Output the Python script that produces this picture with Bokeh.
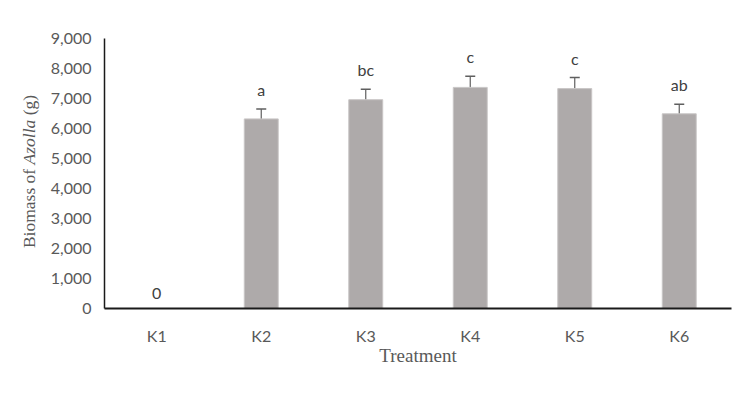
import math
from bokeh.plotting import figure
from bokeh.layouts import row
from bokeh.models import ColumnDataSource, Whisker, TeeHead, Label, FixedTicker, Range1d
from bokeh.core.properties import value
from bokeh.embed import file_html
from bokeh.resources import INLINE

categories = ["K1", "K2", "K3", "K4", "K5", "K6"]
biomass = [0, 6320, 6960, 7370, 7330, 6490]
errors = [0, 330, 350, 370, 370, 320]
letters = ["0", "a", "bc", "c", "c", "ab"]
y_ticks = [0, 1000, 2000, 3000, 4000, 5000, 6000, 7000, 8000, 9000]

xs = [i + 0.5 for i in range(len(categories))]
src = ColumnDataSource(dict(
    x=xs, top=biomass,
    upper=[b + e for b, e in zip(biomass, errors)],
    lower=[b - e for b, e in zip(biomass, errors)],
    lab=letters,
))
err_src = ColumnDataSource(dict(
    x=[x for x, e in zip(xs, errors) if e > 0],
    upper=[b + e for b, e in zip(biomass, errors) if e > 0],
    lower=[b - e for b, e in zip(biomass, errors) if e > 0],
))

W, H = 745, 390
TW = 46  # width of the narrow panel holding the y-axis title
FT, FB = 38, 308  # frame top / bottom on the page

p = figure(width=W - TW, height=H, output_backend="svg", toolbar_location=None,
           x_range=Range1d(0, len(categories)), y_range=Range1d(0, 9000),
           min_border_left=104 - TW, min_border_right=W - 731, min_border_top=FT, min_border_bottom=H - FB)
p.outline_line_color = None
p.grid.grid_line_color = None
p.background_fill_color = "white"

p.vbar(x="x", top="top", width=0.325, source=src, fill_color="#AEAAAA", line_color="#C9C6C6", line_width=1)

w = Whisker(base="x", upper="upper", lower="lower", source=err_src,
            line_color="#5F5F5F", line_width=1.2)
w.upper_head = TeeHead(size=10, line_color="#5F5F5F", line_width=1.5)
w.lower_head = TeeHead(size=10, line_color="#5F5F5F", line_width=1.5)
p.add_layout(w)

p.text(x="x", y="upper", text="lab", source=src, text_align="center", text_baseline="bottom",
       y_offset=-10, text_font=value("Lato"), text_font_size="16px", text_color="#404040")

# x axis
xa = p.xaxis[0]
xa.ticker = FixedTicker(ticks=xs)
xa.major_label_overrides = {x: c for x, c in zip(xs, categories)}
xa.major_tick_line_color = None
xa.minor_tick_line_color = None
xa.axis_line_color = "#1a1a1a"
xa.axis_line_width = 2
xa.major_label_text_font = "Lato"
xa.major_label_text_font_size = "16px"
xa.major_label_text_color = "#595959"
xa.major_label_standoff = 11
xa.axis_label = "Treatment"
xa.axis_label_text_font = "Liberation Serif"
xa.axis_label_text_font_style = "normal"
xa.axis_label_text_font_size = "19px"
xa.axis_label_text_color = "#595959"
xa.axis_label_standoff = -3

ya = p.yaxis[0]
ya.ticker = FixedTicker(ticks=y_ticks)
ya.major_label_overrides = {t: f"{t:,}" for t in y_ticks}
ya.major_tick_line_color = None
ya.minor_tick_line_color = None
ya.major_tick_out = 0
ya.major_tick_in = 0
ya.axis_line_color = "#1a1a1a"
ya.axis_line_width = 1.5
ya.major_label_text_font = "Lato"
ya.major_label_text_font_size = "16px"
ya.major_label_text_color = "#595959"
ya.major_label_standoff = 13

# narrow panel with the y-axis title (mixed upright / italic)
t = figure(width=TW, height=H, output_backend="svg", toolbar_location=None,
           x_range=Range1d(0, 1), y_range=Range1d(0, 1),
           min_border_left=0, min_border_right=0, min_border_top=FT, min_border_bottom=H - FB,
           x_axis_location=None, y_axis_location=None)
t.outline_line_color = None
t.grid.grid_line_color = None

fs = 17.5
# (text, style, advance in em including the following space)
parts = [("Biomass of", "normal", 4.778), ("Azolla", "italic", 2.806), ("(g)", "normal", 1.166)]
total = sum(w_ for _, _, w_ in parts) * fs
x_title = 28
y_center_page = 171
pos = (FB - y_center_page) - total / 2.0  # screen units measured from the frame bottom
for txt, style, wem in parts:
    t.add_layout(Label(x=x_title, y=pos, x_units="screen", y_units="screen", text=txt, angle=math.pi / 2,
                       text_font="Liberation Serif", text_font_style=style, text_font_size=f"{fs}px",
                       text_color="#595959", text_align="left", text_baseline="middle"))
    pos += wem * fs

layout = row(t, p, spacing=0)
open("out.html", "w").write(file_html(layout, INLINE))
